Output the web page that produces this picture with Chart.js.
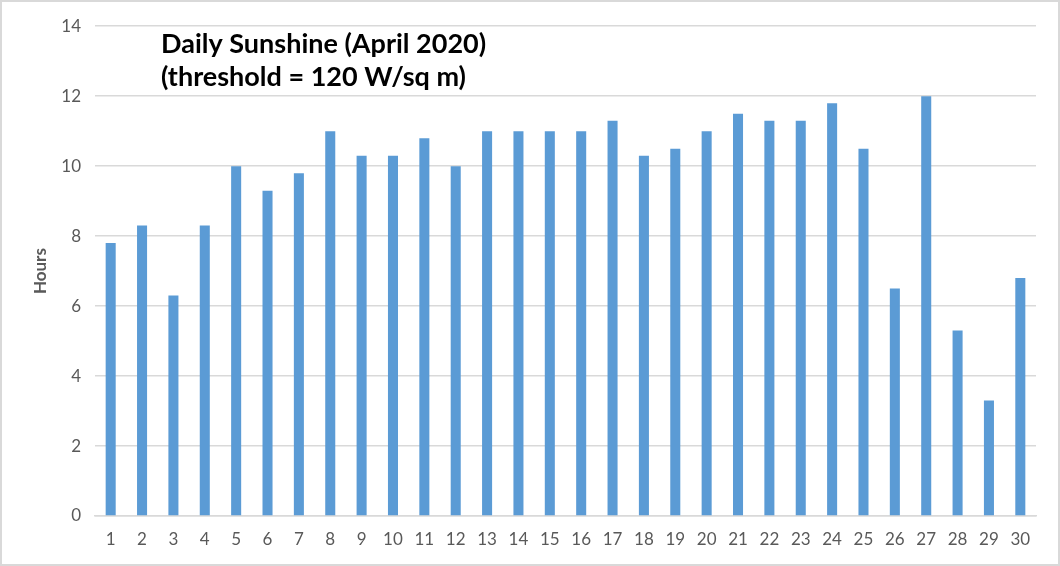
<!DOCTYPE html>
<html>
<head>
<meta charset="utf-8">
<script src="https://cdn.jsdelivr.net/npm/chart.js@4"></script>
<style>
  html, body { margin: 0; padding: 0; background: #fff; }
  #wrap { width: 1060px; height: 566px; box-sizing: border-box; border: 2px solid #d9d9d9; }
</style>
</head>
<body>
<div id="wrap"><canvas id="sunChart" width="1056" height="562"></canvas></div>
<script>
const days = ['1','2','3','4','5','6','7','8','9','10','11','12','13','14','15','16','17','18','19','20','21','22','23','24','25','26','27','28','29','30'];
const sunshineHours = [7.8, 8.3, 6.3, 8.3, 10.0, 9.3, 9.8, 11.0, 10.3, 10.3, 10.8, 10.0, 11.0, 11.0, 11.0, 11.0, 11.3, 10.3, 10.5, 11.0, 11.5, 11.3, 11.3, 11.8, 10.5, 6.5, 12.0, 5.3, 3.3, 6.8];
const titleLines = ['Daily Sunshine (April 2020)', '(threshold = 120 W/sq m)'];
const yLabel = 'Hours';

const FONT = 'Lato, "Open Sans", sans-serif';

// title sits inside the plot area, so draw it ourselves
const innerTitle = {
  id: 'innerTitle',
  afterDraw(chart) {
    const c = chart.ctx, a = chart.chartArea;
    c.save();
    c.fillStyle = '#000';
    c.font = 'bold 27px ' + FONT;
    c.textBaseline = 'alphabetic';
    titleLines.forEach((t, i) => c.fillText(t, a.left + 66, 51 + i * 33));
    c.restore();
  }
};

new Chart(document.getElementById('sunChart').getContext('2d'), {
  type: 'bar',
  data: {
    labels: days,
    datasets: [{ data: sunshineHours, backgroundColor: '#5b9bd5', barPercentage: 0.64, categoryPercentage: 0.5 }]
  },
  options: {
    responsive: false,
    animation: false,
    layout: { padding: { left: 0, right: 22, top: 12, bottom: 0 } },
    plugins: { legend: { display: false }, tooltip: { enabled: false } },
    scales: {
      x: {
        grid: { display: false, drawTicks: false },
        border: { color: '#d9d9d9', width: 1.5 },
        ticks: { color: '#595959', font: { family: FONT, size: 17 }, padding: 13 },
        afterFit(s) { s.height = 48; }
      },
      y: {
        min: 0, max: 14,
        ticks: { stepSize: 2, color: '#595959', font: { family: FONT, size: 17 }, padding: 14 },
        grid: { color: '#d9d9d9', lineWidth: 1.5, drawTicks: false },
        border: { display: false },
        title: { display: true, text: yLabel, color: '#595959', font: { family: FONT, size: 17, weight: 'bold' }, padding: { top: 28, bottom: 0 } },
        afterFit(s) { s.width = 93; }
      }
    }
  },
  plugins: [innerTitle]
});
</script>
</body>
</html>
